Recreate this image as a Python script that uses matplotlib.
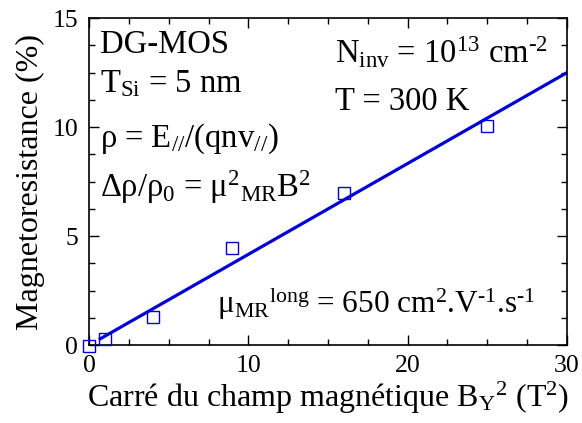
import matplotlib
matplotlib.use("Agg")
import matplotlib.pyplot as plt
from matplotlib.ticker import MultipleLocator

# ==============================
# DATA
# ==============================
b2 = [0, 1, 4, 9, 16, 25]                    # B_Y^2 (T^2)
mr = [-0.05, 0.3, 1.3, 4.45, 7.0, 10.05]     # magnetoresistance (%)
fit_x = [0.7, 30]
fit_y = [0.29, 12.5]

x_ticks = [0, 10, 20, 30]
y_ticks = [0, 5, 10, 15]

# ==============================
# STYLE
# ==============================
plt.rcParams["font.family"] = "serif"
plt.rcParams["font.serif"] = ["Liberation Serif", "DejaVu Serif"]
plt.rcParams["mathtext.fontset"] = "custom"
plt.rcParams["mathtext.rm"] = "Liberation Serif"
plt.rcParams["mathtext.it"] = "Liberation Serif:italic"
plt.rcParams["mathtext.default"] = "rm"

blue = "#0000d8"

fig = plt.figure(figsize=(5.82, 4.23), dpi=100)
ax = fig.add_axes([0.153, 0.184, 0.821, 0.773])

ax.plot(fit_x, fit_y, color=blue, lw=2.3, zorder=2)
ax.plot(b2, mr, ls="none", marker="s", ms=8, mfc="none", mec=blue, mew=1.0,
        clip_on=False, zorder=3)

ax.set_xlim(0, 30)
ax.set_ylim(0, 15)
ax.set_xticks(x_ticks)
ax.set_yticks(y_ticks)
ax.xaxis.set_minor_locator(MultipleLocator(2.5))
ax.yaxis.set_minor_locator(MultipleLocator(1.25))
ax.tick_params(which="both", direction="in", top=True, right=True,
               labelsize=18.5, width=1.0)
ax.tick_params(axis="x", which="both", pad=7)
ax.tick_params(axis="y", which="both", pad=8)
ax.tick_params(which="major", length=7)
ax.tick_params(which="minor", length=4)
for s in ax.spines.values():
    s.set_linewidth(1.2)

ax.set_xlabel("Carré du champ magnétique B$_{\\mathrm{Y}}$$^{2}$ (T$^{2}$)", fontsize=23, labelpad=2)
ax.set_ylabel("Magnetoresistance (%)", fontsize=23, labelpad=5)

# annotations
fs = 23.5
kw = dict(transform=ax.transAxes, va="baseline")
ax.text(0.023, 0.893, "DG-MOS", fontsize=fs, **kw)
ax.text(0.023, 0.774, "T$_{\\mathrm{Si}}$ = 5 nm", fontsize=fs, **kw)
ax.text(0.023, 0.606, "ρ = E$_{//}$/(qnv$_{//}$)", fontsize=fs, **kw)
ax.text(0.023, 0.453, "Δρ/ρ$_{0}$ = μ$^{2}$$_{\\mathrm{MR}}$B$^{2}$", fontsize=fs, **kw)
ax.text(0.515, 0.862, "N$_{\\mathrm{inv}}$ = 10$^{13}$ cm$^{\\text{-}2}$", fontsize=fs, **kw)
ax.text(0.515, 0.719, "T = 300 K", fontsize=fs, **kw)
ax.text(0.268, 0.098, "μ$_{\\mathrm{MR}}$$^{\\mathrm{long}}$ = 650 cm$^{2}$.V$^{\\text{-}1}$.s$^{\\text{-}1}$",
        fontsize=22.5, **kw)

fig.savefig("out.png", dpi=100)
